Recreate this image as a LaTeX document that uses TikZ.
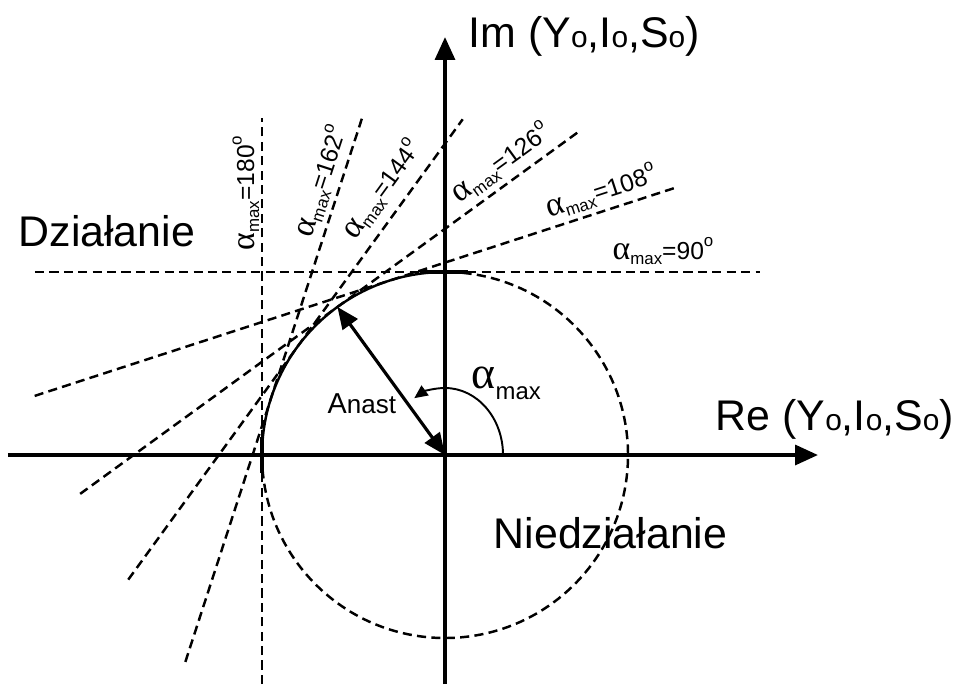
\documentclass[tikz,border=0pt]{standalone}
\usepackage{fontspec}
\setmainfont{Liberation Sans}
\newfontfamily\greekfont{Liberation Serif}
\usetikzlibrary{arrows.meta,calc}

% small helpers for the labels
\newcommand{\amx}[1]{{\fontsize{9.6}{10}\greekfont α}\raisebox{-0.4ex}{\fontsize{4.8}{5}\selectfont max}=#1\raisebox{0.95ex}{\fontsize{4.8}{5}\selectfont o}}
\newcommand{\subo}{{\fontsize{8.5}{9}\selectfont o}}
\newcommand{\yis}{(Y\subo,I\subo,S\subo)}

\begin{document}
\begin{tikzpicture}[
  axis/.style={line width=1.1pt, -{Triangle[length=6.5pt,width=5.6pt]}},
  tline/.style={line width=0.7pt, dash pattern=on 2.6pt off 1.5pt},
  tickmark/.style={line width=1.3pt},
  big/.style={font=\fontsize{12.2}{14}\selectfont, inner sep=0pt},
  lab/.style={font=\fontsize{7}{8}\selectfont, inner sep=0pt}
]
\useasboundingbox (-4.45,-2.29) rectangle (5.09,4.55);
\def\R{1.83}

\coordinate (O) at (0,0);
\coordinate (t90)  at (90:\R);
\coordinate (t108) at (108:\R);
\coordinate (t126) at (126:\R);
\coordinate (t144) at (144:\R);
\coordinate (t162) at (162:\R);
\coordinate (t180) at (180:\R);

% Tangent lines
\draw[tline] ($(t90)+(180:4.10)$)  -- ($(t90)+(0:3.15)$);
\draw[tline] ($(t108)+(198:3.72)$) -- ($(t108)+(18:3.01)$);
\draw[tline] ($(t126)+(216:3.18)$) -- ($(t126)+(36:3.00)$);
\draw[tline] ($(t144)+(234:2.87)$) -- ($(t144)+(54:2.82)$);
\draw[tline] ($(t162)+(252:2.77)$) -- ($(t162)+(72:2.95)$);
\draw[tline] ($(t180)+(270:2.29)$) -- ($(t180)+(90:3.37)$);

% Circle: solid in the second quarter, dashed elsewhere
\draw[line width=0.7pt] (t90) arc[start angle=90, end angle=180, radius=\R];
\draw[tline] (t180) arc[start angle=180, end angle=450, radius=\R];

% Axes
\coordinate (xl) at (-4.37,0);
\coordinate (xr) at (3.73,0);
\coordinate (yb) at (0,-2.29);
\coordinate (yt) at (0,4.18);
\draw[axis] (xl) -- (xr);
\draw[axis] (yb) -- (yt);

% Marks at the 90 and 180 tangent points
\draw[tickmark] ($(t90)+(-0.25,0)$) -- ($(t90)+(0.23,0)$);
\draw[tickmark] ($(t180)+(0,-0.18)$) -- ($(t180)+(0,0.18)$);

% Radius and angle
\draw[line width=0.9pt, {Triangle[length=6.2pt,width=5.2pt]}-{Triangle[length=6.2pt,width=5.2pt]}] (t126) -- (O);
\draw[line width=0.55pt, -{Triangle[length=3.8pt,width=3.4pt]}] (0.58,0) arc[start angle=0, end angle=122, x radius=0.58, y radius=0.67];

% Line labels
\node[lab, rotate=90] (l180) at ($(180:1.99)+(90:2.62)$) {\amx{180}};
\node[lab, rotate=72] (l162) at ($(162:2.02)+(72:2.22)$) {\amx{162}};
\node[lab, rotate=54] (l144) at ($(144:2.07)+(54:1.78)$) {\amx{144}};
\node[lab, rotate=36] (l126) at ($(126:2.03)+(36:2.17)$) {\amx{126}};
\node[lab, rotate=18] (l108) at ($(108:2.02)+(18:2.30)$) {\amx{108}};
\node[lab]            (l90)  at ($(90:2.04)+(0:2.18)$)   {\amx{90}};

% Texts
\node[big, anchor=west] (im) at (0.23,4.19) {Im \yis};
\node[big, anchor=west] (re) at (2.70,0.36) {Re \yis};
\node[big, anchor=west] (dz) at (-4.27,2.24) {Działanie};
\node[big, anchor=west] (nd) at (0.48,-0.78) {Niedziałanie};
\node[anchor=west, inner sep=0pt, font=\fontsize{8.2}{9}\selectfont] (an) at (-1.18,0.51) {A{\fontsize{7.4}{8}\selectfont nast}};
\node[anchor=west, inner sep=0pt] (am) at (0.26,0.72) {{\fontsize{13}{14}\greekfont α}\raisebox{-0.6ex}{\fontsize{6.8}{7}\selectfont max}};
\end{tikzpicture}
\end{document}
